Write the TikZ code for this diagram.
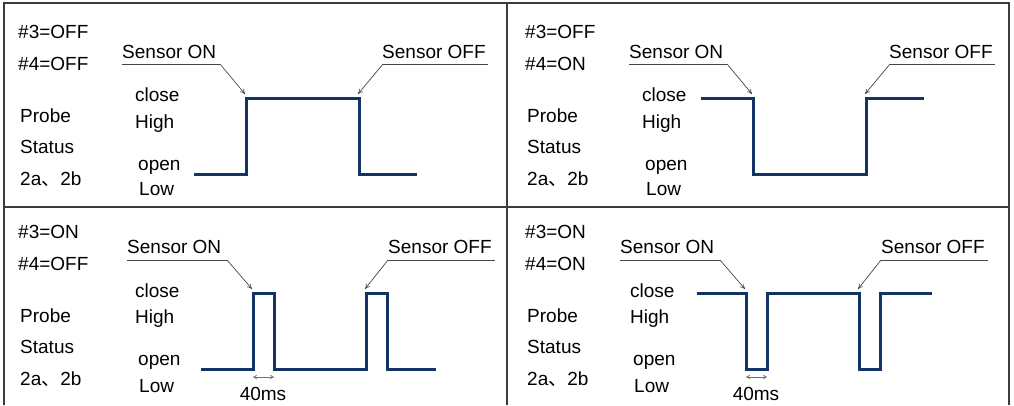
\documentclass[tikz,border=0pt]{standalone}
\usepackage{fontspec}
\setmainfont{Liberation Sans}
\newfontfamily\cjk{Noto Sans CJK SC}
\definecolor{wavenavy}{RGB}{18,52,100}
\definecolor{framegray}{RGB}{60,60,60}
\definecolor{leadgray}{RGB}{70,70,70}
\definecolor{spangray}{RGB}{110,110,110}
\usetikzlibrary{arrows.meta,positioning,calc}

\begin{document}
\begin{tikzpicture}[x=1pt,y=-1pt,
  lbl/.style={anchor=base west,inner sep=0pt,font=\fontsize{19}{21}\selectfont},
  wave/.style={wavenavy,line width=3pt},
  lead/.style={leadgray,line width=0.7pt},
  leadarr/.style={lead,-{To[length=5pt,width=5pt]}},
  span/.style={spangray,line width=0.7pt,{To[length=4pt,width=4.5pt]}-{To[length=4pt,width=4.5pt]}}]
\useasboundingbox (0,0) rectangle (1014,405);
% frame
\draw[framegray,line width=1.1pt] (4,405) -- (4,3) -- (1009,3) -- (1009,405);
\draw[framegray,line width=1.1pt] (507,3) -- (507,405);
\draw[framegray,line width=1.1pt] (4,207) -- (1009,207);

% panel 1: #3=OFF #4=OFF
\node[lbl] (swA1) at (18,38) {\#3=OFF};
\node[lbl] (swB1) at (18,70) {\#4=OFF};
\node[lbl] (prA1) at (20,122) {Probe};
\node[lbl] (prB1) at (20,153) {Status};
\node[lbl] (prC1) at (20,185) {2a{\cjk 、}2b};
\node[lbl] (cl1) at (135,101) {close};
\node[lbl] (hi1) at (135,128) {High};
\node[lbl] (op1) at (138,170) {open};
\node[lbl] (lo1) at (139,195) {Low};
\draw[wave] (194,174) -- (246,174) -- (246,98) coordinate (up1) -- (359,98) coordinate (dn1) -- (359,174) -- (417,174);
\node[lbl] (son1) at (122,58) {Sensor ON};
\node[lbl] (soff1) at (382,58) {Sensor OFF};
\draw[lead] (122,64) -- (220,64) coordinate (sonE1);
\draw[lead] (383,64) coordinate (soffE1) -- (488,64);
\draw[leadarr] (sonE1) -- ($(up1)+(-1,-4)$);
\draw[leadarr] (soffE1) -- ($(dn1)+(-1,-4)$);

% panel 2: #3=OFF #4=ON
\node[lbl] (swA2) at (525,38) {\#3=OFF};
\node[lbl] (swB2) at (525,70) {\#4=ON};
\node[lbl] (prA2) at (527,122) {Probe};
\node[lbl] (prB2) at (527,153) {Status};
\node[lbl] (prC2) at (527,185) {2a{\cjk 、}2b};
\node[lbl] (cl2) at (642,101) {close};
\node[lbl] (hi2) at (642,128) {High};
\node[lbl] (op2) at (645,170) {open};
\node[lbl] (lo2) at (646,195) {Low};
\draw[wave] (701,98) -- (753,98) coordinate (up2) -- (753,174) -- (866,174) -- (866,98) coordinate (dn2) -- (924,98);
\node[lbl] (son2) at (629,58) {Sensor ON};
\node[lbl] (soff2) at (889,58) {Sensor OFF};
\draw[lead] (629,64) -- (727,64) coordinate (sonE2);
\draw[lead] (890,64) coordinate (soffE2) -- (995,64);
\draw[leadarr] (sonE2) -- ($(up2)+(-1,-4)$);
\draw[leadarr] (soffE2) -- ($(dn2)+(-1,-4)$);

% panel 3: #3=ON #4=OFF
\node[lbl] (swA3) at (18,238) {\#3=ON};
\node[lbl] (swB3) at (18,270) {\#4=OFF};
\node[lbl] (prA3) at (20,322) {Probe};
\node[lbl] (prB3) at (20,353) {Status};
\node[lbl] (prC3) at (20,385) {2a{\cjk 、}2b};
\node[lbl] (cl3) at (135,297) {close};
\node[lbl] (hi3) at (135,323) {High};
\node[lbl] (op3) at (138,365) {open};
\node[lbl] (lo3) at (139,392) {Low};
\draw[wave] (201,369) -- (253,369) coordinate (pA3) -- (253,293) coordinate (up3) -- (274,293) -- (274,369) coordinate (pB3)
  -- (366,369) -- (366,293) coordinate (dn3) -- (387,293) -- (387,369) -- (436,369);
\node[lbl] (son3) at (127,253) {Sensor ON};
\node[lbl] (soff3) at (388,253) {Sensor OFF};
\draw[lead] (127,260) -- (227,260) coordinate (sonE3);
\draw[lead] (388,260) coordinate (soffE3) -- (495,260);
\draw[leadarr] (sonE3) -- ($(up3)+(-1,-4)$);
\draw[leadarr] (soffE3) -- ($(dn3)+(-1,-4)$);
\draw[span] ($(pA3)+(0,8)$) -- ($(pB3)+(0,8)$);
\node[lbl,anchor=base] (ms3) at (263,400) {40ms};

% panel 4: #3=ON #4=ON
\node[lbl] (swA4) at (525,238) {\#3=ON};
\node[lbl] (swB4) at (525,270) {\#4=ON};
\node[lbl] (prA4) at (527,322) {Probe};
\node[lbl] (prB4) at (527,353) {Status};
\node[lbl] (prC4) at (527,385) {2a{\cjk 、}2b};
\node[lbl] (cl4) at (630,297) {close};
\node[lbl] (hi4) at (630,323) {High};
\node[lbl] (op4) at (633,365) {open};
\node[lbl] (lo4) at (634,392) {Low};
\draw[wave] (697,293) -- (746,293) coordinate (up4) -- (746,369) coordinate (pA4) -- (767,369) coordinate (pB4) -- (767,293)
  -- (859,293) coordinate (dn4) -- (859,369) -- (880,369) -- (880,293) -- (932,293);
\node[lbl] (son4) at (620,253) {Sensor ON};
\node[lbl] (soff4) at (881,253) {Sensor OFF};
\draw[lead] (620,260) -- (720,260) coordinate (sonE4);
\draw[lead] (881,260) coordinate (soffE4) -- (988,260);
\draw[leadarr] (sonE4) -- ($(up4)+(-1,-4)$);
\draw[leadarr] (soffE4) -- ($(dn4)+(-1,-4)$);
\draw[span] ($(pA4)+(0,8)$) -- ($(pB4)+(0,8)$);
\node[lbl,anchor=base] (ms4) at (756,400) {40ms};
\end{tikzpicture}
\end{document}
